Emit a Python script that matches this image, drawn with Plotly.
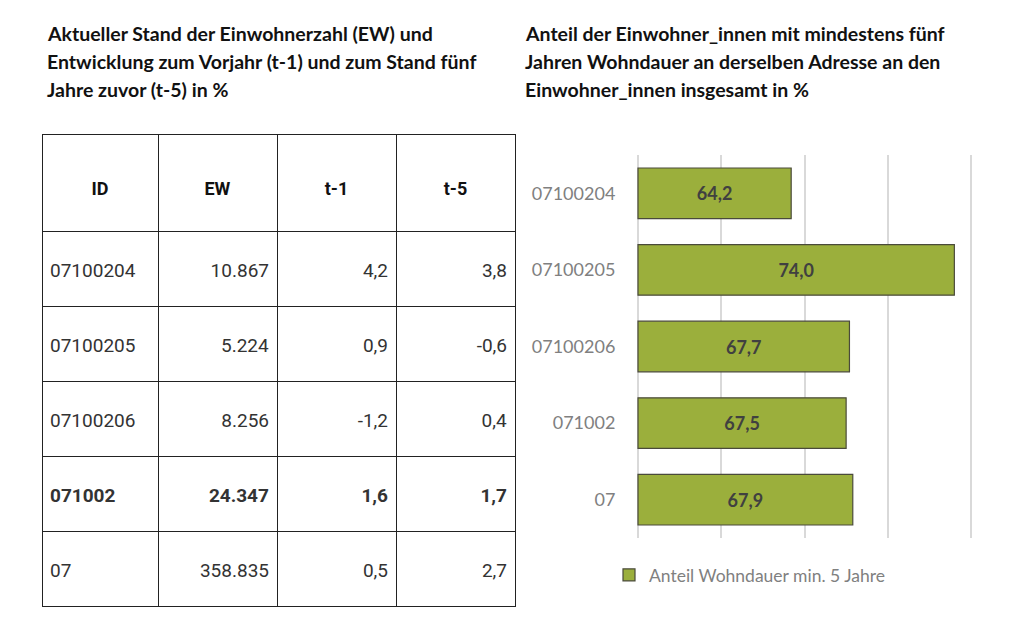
import plotly.graph_objects as go

# table data
ids = ["07100204", "07100205", "07100206", "071002", "07"]
ew = [10867, 5224, 8256, 24347, 358835]
t1 = [4.2, 0.9, -1.2, 1.6, 0.5]
t5 = [3.8, -0.6, 0.4, 1.7, 2.7]
bold_row = "071002"
headers = ["ID", "EW", "t-1", "t-5"]

# bar chart data
bar_ids = ["07100204", "07100205", "07100206", "071002", "07"]
anteil = [64.2, 74.0, 67.7, 67.5, 67.9]
axis_start = 55

title_left = ["Aktueller Stand der Einwohnerzahl (EW) und",
              "Entwicklung zum Vorjahr (t-1) und zum Stand fünf",
              "Jahre zuvor (t-5) in %"]
title_right = ["Anteil der Einwohner_innen mit mindestens fünf",
               "Jahren Wohndauer an derselben Adresse an den",
               "Einwohner_innen insgesamt in %"]

W, H = 1024, 623
OFF = 8  # page body margin


def px(x):
    return (x - OFF) / W


def py(y):
    return 1 - (y - OFF) / H


def de_int(v):
    return f"{v:,}".replace(",", ".")


def de_dec(v):
    return f"{v:.1f}".replace(".", ",")


def cell(txt, row_id, size=19):
    if row_id == bold_row:
        txt = f"<b>{txt}</b>"
    # blank first line pushes the text down to the middle of the cell
    return f"\u00a0<br><span style='font-size:{size}px'>{txt}</span>"


cols = [
    [cell(i, i) for i in ids],
    [cell(de_int(v), i) for v, i in zip(ew, ids)],
    [cell(de_dec(v), i) for v, i in zip(t1, ids)],
    [cell(de_dec(v), i) for v, i in zip(t5, ids)],
]

fig = go.Figure()

fig.add_trace(go.Table(
    domain=dict(x=[px(42), px(515)], y=[0, py(134)]),
    columnwidth=[116, 119, 119, 119],
    header=dict(values=[f"\u00a0<br><span style='font-size:18px'><b>{h}</b></span>" for h in headers],
                height=97, align="center",
                line=dict(color="#222222", width=1),
                fill=dict(color="white"),
                font=dict(family="Roboto", size=24, color="#111111")),
    cells=dict(values=cols, height=75,
               align=["left", "right", "right", "right"],
               line=dict(color="#222222", width=1),
               fill=dict(color="white"),
               font=dict(family="Roboto", size=17, color="#333333")),
))

fig.add_trace(go.Bar(
    x=[v - axis_start for v in anteil], base=axis_start, y=bar_ids,
    orientation="h",
    name="Anteil Wohndauer min. 5 Jahre",
    marker=dict(color="#9BAF3C", line=dict(color="#4a4a3a", width=1.2)),
    text=[de_dec(v) for v in anteil],
    texttemplate="<b>%{text}</b>", textposition="inside",
    insidetextanchor="middle",
    textfont=dict(family="Lato", size=18, color="#404040"),
    width=0.66,
    hovertemplate="%{y}: %{text}<extra></extra>",
    xaxis="x", yaxis="y",
))

ann = []
for k, line in enumerate(title_left):
    ann.append(dict(text=f"<b>{line}</b>", x=px(45), y=py(33 + 28 * k),
                    xref="paper", yref="paper", xanchor="left", yanchor="middle",
                    showarrow=False, font=dict(family="Lato", size=19.5, color="#111111")))
for k, line in enumerate(title_right):
    ann.append(dict(text=f"<b>{line}</b>", x=px(523), y=py(33 + 28 * k),
                    xref="paper", yref="paper", xanchor="left", yanchor="middle",
                    showarrow=False, font=dict(family="Lato", size=19.5, color="#111111")))

# pixels per unit on the value axis, so the edge gridlines at 55 and 75 stay visible
ppu = (971 - 638) / 20
fig.update_layout(
    width=W, height=H,
    margin=dict(l=0, r=0, t=0, b=0),
    paper_bgcolor="white", plot_bgcolor="white",
    separators=",.",
    annotations=ann,
    xaxis=dict(domain=[px(638 - 0.1 * ppu), px(971 + 0.1 * ppu)],
               range=[axis_start - 0.1, 75.1], tick0=axis_start, dtick=5,
               showticklabels=False, showgrid=True, gridcolor="#d9d9d9",
               gridwidth=1.5, zeroline=False, showline=False, anchor="y"),
    yaxis=dict(domain=[py(538), py(155)], autorange="reversed",
               tickfont=dict(family="Lato", size=18, color="#808080"),
               ticks="", ticklabelstandoff=20, showline=False, anchor="x"),
    showlegend=True,
    legend=dict(orientation="h", x=px(609), y=py(575), xanchor="left",
                yanchor="middle", itemwidth=30,
                font=dict(family="Lato", size=17.5, color="#808080")),
    bargap=0.34,
)

fig.write_html("out.html")
